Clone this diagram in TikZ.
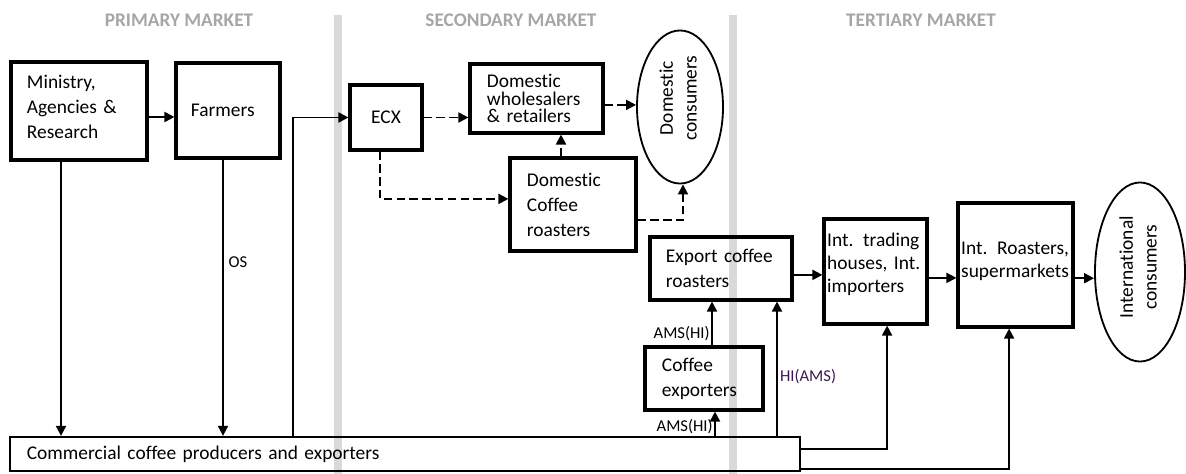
\documentclass[tikz,border=0pt]{standalone}
\usepackage{fontspec}
\setmainfont{Carlito}[Ligatures=NoCommon]
\usepackage{graphicx}
\usepackage{tikz}
\usetikzlibrary{arrows.meta, shapes.geometric, positioning}
\definecolor{stripgray}{RGB}{217,217,217}
\definecolor{headgray}{RGB}{166,166,166}
\definecolor{labpurple}{RGB}{60,25,80}
\newcommand{\liftup}[2]{\raisebox{#1}[\height][\depth]{#2}}
\tikzset{every actor node/.style={draw,line width=2.2pt,inner ysep=0pt,align=left,font=\fontsize{13.8}{17.8}\selectfont}}
\tikzset{every consumer node/.style={draw,ellipse,line width=1.3pt,inner sep=0pt,font=\fontsize{13.8}{17}\selectfont}}
\tikzset{market labels/.style={font=\fontsize{13.7}{15}\selectfont\bfseries,text=headgray}}
\tikzset{flow labels/.style={font=\fontsize{11.8}{13}\selectfont}}
\tikzset{flow/.style={->,line width=1.3pt}}
\tikzset{dflow/.style={->,line width=1.3pt,dash pattern=on 0.21cm off 0.11cm}}

\begin{document}
\begin{tikzpicture}[x=0.025cm,y=-0.025cm,>={Triangle[length=0.25cm,width=0.25cm]}]
    \useasboundingbox (0,0) rectangle (1186,474);
    % market strips
    \fill[stripgray] (334,15) rectangle (342,474);
    \fill[stripgray] (729,15) rectangle (737,474);
    \node[market labels](PM) at (179,20){PRIMARY MARKET};
    \node[market labels](SM) at (511,20){SECONDARY MARKET};
    \node[market labels](TM) at (921,20){TERTIARY MARKET};

    \node[every actor node, minimum width=3.4cm, minimum height=2.45cm, inner xsep=0.4cm, text width=2.6cm](MIN) at (79,111){\liftup{0.07cm}{\begin{tabular}{@{}l@{}}Ministry,\\Agencies \&\\Research\end{tabular}}};
    \node[every actor node, minimum width=2.6cm, minimum height=2.375cm, inner xsep=0.375cm, text width=1.85cm](FAR) at (228,110.5){Farmers};
    \node[every actor node, minimum width=1.8cm, minimum height=1.625cm, align=center](ECX) at (386,117.5){ECX};
    \node[every actor node, minimum width=3.325cm, minimum height=1.725cm, inner xsep=0.425cm, text width=2.475cm, font=\fontsize{13.8}{12.3}\selectfont](DWR) at (536.5,98.5){Domestic\\wholesalers\\\& retailers};
    \node[every consumer node, minimum width=2.15cm, minimum height=3.825cm](DC) at (680,107){\liftup{0.22cm}{\rotatebox{90}{\begin{tabular}{@{}c@{}}Domestic\\consumers\end{tabular}}}};
    \node[every actor node, minimum width=3.15cm, minimum height=2.325cm, inner xsep=0.425cm, text width=2.3cm](DCR) at (573,204.5){Domestic\\Coffee\\roasters};
    \node[every actor node, minimum width=3.55cm, minimum height=1.575cm, inner xsep=0.4cm, text width=2.75cm](ECR) at (721,268.5){Export coffee\\roasters};
    \node[every actor node, minimum width=2.95cm, minimum height=1.575cm, inner xsep=0.425cm, text width=2.1cm](CE) at (704,378.5){Coffee\\exporters};
    \node[every actor node, minimum width=2.575cm, minimum height=2.625cm, inner xsep=0.08cm, text width=2.415cm, font=\fontsize{13.8}{16.4}\selectfont](ITH) at (875.5,271.5){\liftup{0.16cm}{\begin{tabular}{@{}l@{}}Int. trading\\houses, Int.\\importers\end{tabular}}};
    \node[every actor node, minimum width=2.875cm, minimum height=3.1cm, inner xsep=0.08cm, text width=2.715cm, font=\fontsize{13.8}{16.4}\selectfont](IR) at (1015.5,265){\liftup{0.09cm}{\begin{tabular}{@{}l@{}}Int. Roasters,\\supermarkets\end{tabular}}};
    \node[every consumer node, minimum width=2.25cm, minimum height=4.475cm](IC) at (1140,272){\liftup{0.12cm}{\rotatebox{90}{\begin{tabular}{@{}c@{}}International\\consumers\end{tabular}}}};
    \node[every actor node, line width=1.6pt, minimum width=19.75cm, minimum height=0.85cm, inner xsep=0.425cm, text width=18.9cm](CCP) at (405,454){Commercial coffee producers and exporters};

    % primary market
    \draw[flow] ([yshift=-0.15cm]MIN.east) -- ([yshift=-0.15cm]MIN.east -| FAR.west);
    \draw[flow] ([xshift=-0.45cm]MIN.south) -- ([xshift=-0.45cm]MIN.south |- CCP.north);
    \draw[flow] ([xshift=-0.125cm]FAR.south) -- node[flow labels, right, pos=0.37]{OS} ([xshift=-0.125cm]FAR.south |- CCP.north);
    \draw[flow] ([xshift=7.1cm]CCP.north west) |- (ECX.west);

    % secondary market
    \draw[dflow] (ECX.east) -- (ECX.east -| DWR.west);
    \draw[dflow] ([xshift=-0.15cm]ECX.south) |- ([yshift=0.14cm]DCR.west);
    \draw[dflow] ([xshift=-0.3cm]DCR.north) -- ([xshift=-0.3cm]DCR.north |- DWR.south);
    \draw[dflow] ([yshift=-0.16cm]DWR.east) -- ([yshift=-0.16cm]DWR.east -| DC.west);
    \draw[dflow] ([yshift=-0.39cm]DCR.east) -| ([xshift=0.075cm]DC.south);

    % tertiary market
    \draw[flow] ([yshift=-0.16cm]ECR.east) -- ([yshift=-0.16cm]ECR.east -| ITH.west);
    \draw[flow] ([yshift=-0.16cm]ITH.east) -- ([yshift=-0.16cm]ITH.east -| IR.west);
    \draw[flow] ([yshift=-0.33cm]IR.east) -- ([yshift=-0.33cm]IR.east -| IC.west);
    \draw[flow] ([xshift=0.2cm]CE.north) -- node[flow labels, left, pos=0.26, inner sep=1pt]{AMS(HI)} ([xshift=0.2cm]CE.north |- ECR.south);
    \draw[flow] ([xshift=0.275cm]CE.south |- CCP.north) -- node[flow labels, left, pos=0.37, inner sep=1pt]{AMS(HI)} ([xshift=0.275cm]CE.south);
    \draw[flow] ([xshift=1.4cm]ECR.south |- CCP.north) -- node[flow labels, right, pos=0.44, inner sep=1.5pt, text=labpurple]{HI(AMS)} ([xshift=1.4cm]ECR.south);
    \draw[flow] ([yshift=0.125cm]CCP.east) -| ([xshift=0.29cm]ITH.south);
    \draw[flow] ([yshift=-0.38cm]CCP.east) -| ([xshift=-0.16cm]IR.south);
\end{tikzpicture}
\end{document}
